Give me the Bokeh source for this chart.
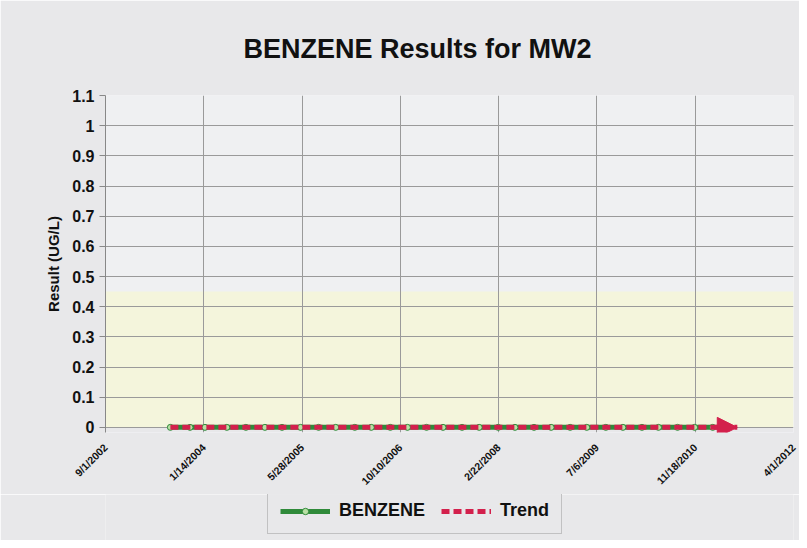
from datetime import datetime
from bokeh.plotting import figure
from bokeh.layouts import column
from bokeh.models import (Range1d, FixedTicker, CustomJSTickFormatter, Legend, LegendItem,
                          Arrow, NormalHead, BoxAnnotation)
from bokeh.embed import file_html
from bokeh.resources import INLINE

# ---- data ----
tick_dates = ["2002-09-01", "2004-01-14", "2005-05-28", "2006-10-10",
              "2008-02-22", "2009-07-06", "2010-11-18", "2012-04-01"]
tick_labels = ["9/1/2002", "1/14/2004", "5/28/2005", "10/10/2006",
               "2/22/2008", "7/6/2009", "11/18/2010", "4/1/2012"]
y_ticks = [0, 0.1, 0.2, 0.3, 0.4, 0.5, 0.6, 0.7, 0.8, 0.9, 1.0, 1.1]

sample_dates = ["2003-07-28", "2003-11-05", "2004-01-20", "2004-05-10", "2004-08-15",
                "2004-11-20", "2005-02-15", "2005-05-20", "2005-08-20", "2005-11-15",
                "2006-02-20", "2006-05-15", "2006-08-20", "2006-11-15", "2007-02-20",
                "2007-05-15", "2007-08-20", "2007-11-15", "2008-02-20", "2008-05-15",
                "2008-08-20", "2008-11-15", "2009-02-20", "2009-05-15", "2009-08-20",
                "2009-11-15", "2010-02-20", "2010-05-15", "2010-08-20", "2010-11-15",
                "2011-02-15"]
benzene = [0, 0, 0, 0, 0, 0, 0, 0, 0, 0, 0, 0, 0, 0, 0, 0,
           0, 0, 0, 0, 0, 0, 0, 0, 0, 0, 0, 0, 0, 0, 0]
trend_dates = ["2003-07-28", "2011-06-20"]
trend_values = [0, 0]

EPOCH = datetime(1970, 1, 1)


def ms(s):
    return (datetime.strptime(s, "%Y-%m-%d") - EPOCH).total_seconds() * 1000.0


tick_ms = [ms(d) for d in tick_dates]
sample_ms = [ms(d) for d in sample_dates]
trend_ms = [ms(d) for d in trend_dates]

FONT = "Liberation Sans"
GREEN = "#2f8a3a"
RED = "#d3204c"
BG = "#e8e8ea"
GRID = "#9a9a9a"

p = figure(width=799, height=494, output_backend="svg", toolbar_location=None,
           x_axis_type="datetime",
           x_range=Range1d(tick_ms[0], tick_ms[-1]), y_range=Range1d(-0.017, 1.1),
           min_border_left=105, min_border_right=6, min_border_top=95, min_border_bottom=55,
           background_fill_color="#eff0f2", border_fill_color=BG)

p.title.text = "BENZENE Results for MW2"
p.title.text_font = FONT
p.title.text_font_size = "27px"
p.title.text_font_style = "bold"
p.title.text_color = "#111111"
p.title.align = "left"
p.title.offset = 138
p.title.standoff = 63

# pale scan tint in the lower part of the plot area, and the strip below zero
p.add_layout(BoxAnnotation(bottom=0, top=0.45, fill_color="#f5f6d6", fill_alpha=0.8,
                           line_alpha=0, level="image"))
p.add_layout(BoxAnnotation(top=0, fill_color=BG, fill_alpha=1.0,
                           line_alpha=0, level="image"))

p.xaxis.ticker = FixedTicker(ticks=tick_ms)
p.xaxis.major_label_overrides = {t: l for t, l in zip(tick_ms, tick_labels)}
p.xaxis.major_label_orientation = 0.785
p.xaxis.major_label_text_font = FONT
p.xaxis.major_label_text_font_size = "10.5px"
p.xaxis.major_label_text_font_style = "bold"
p.xaxis.major_label_standoff = 7
p.xaxis.minor_tick_line_color = None
p.xaxis.axis_line_color = None
p.xaxis.major_tick_line_color = None

p.yaxis.ticker = FixedTicker(ticks=y_ticks)
p.yaxis.formatter = CustomJSTickFormatter(code="return tick.toFixed(1).replace(/\\.0$/, '');")
p.yaxis.major_label_text_font = FONT
p.yaxis.major_label_text_font_size = "16px"
p.yaxis.major_label_text_font_style = "bold"
p.yaxis.minor_tick_line_color = None
p.yaxis.axis_label = "Result (UG/L)"
p.yaxis.axis_label_text_font = FONT
p.yaxis.axis_label_text_font_size = "15px"
p.yaxis.axis_label_text_font_style = "bold"
p.yaxis.axis_label_text_color = "#111111"
p.yaxis.axis_label_standoff = 7
p.yaxis.axis_line_color = "#888888"
p.yaxis.major_tick_line_color = "#888888"
p.yaxis.major_tick_in = 0
p.yaxis.major_tick_out = 6
p.axis.major_label_text_color = "#111111"

p.xgrid.grid_line_color = GRID
p.ygrid.grid_line_color = GRID
p.outline_line_color = None

p.line(sample_ms, benzene, line_color=GREEN, line_width=5)
p.scatter(sample_ms, benzene, size=6, fill_color="#b9e0a5", line_color=GREEN)
p.line(trend_ms, trend_values, line_color=RED, line_width=5, line_dash="8 4")
p.add_layout(Arrow(end=NormalHead(size=20, fill_color=RED, line_color=RED),
                   x_start=trend_ms[-1] - 1.0e10, y_start=trend_values[-1],
                   x_end=trend_ms[-1], y_end=trend_values[-1],
                   line_color=RED, line_width=5))

# ---- legend strip below the chart (same series, drawn out of view) ----
lg = figure(width=799, height=46, output_backend="svg", toolbar_location=None,
            x_range=p.x_range, y_range=Range1d(10, 11),
            x_axis_location=None, y_axis_location=None,
            min_border_left=105, min_border_right=6, min_border_top=0, min_border_bottom=0,
            background_fill_color=BG, border_fill_color=BG)
lg.grid.visible = False
lg.outline_line_color = None
lb_line = lg.line(sample_ms, benzene, line_color=GREEN, line_width=5)
lb_pts = lg.scatter(sample_ms, benzene, size=6, fill_color="#b9e0a5", line_color=GREEN)
lt_line = lg.line(trend_ms, trend_values, line_color=RED, line_width=5, line_dash="8 4")
legend = Legend(items=[LegendItem(label="BENZENE", renderers=[lb_line, lb_pts]),
                       LegendItem(label="Trend", renderers=[lt_line])],
                orientation="horizontal", location=(162, 6),
                label_text_font=FONT, label_text_font_size="18px",
                label_text_font_style="bold", label_text_color="#111111",
                glyph_width=50, glyph_height=16, label_height=16,
                label_standoff=9, spacing=16,
                border_line_color="#999999", background_fill_color=BG,
                padding=12, margin=0)
lg.add_layout(legend)

layout = column(p, lg, spacing=0)
open("out.html", "w").write(file_html(layout, INLINE))
